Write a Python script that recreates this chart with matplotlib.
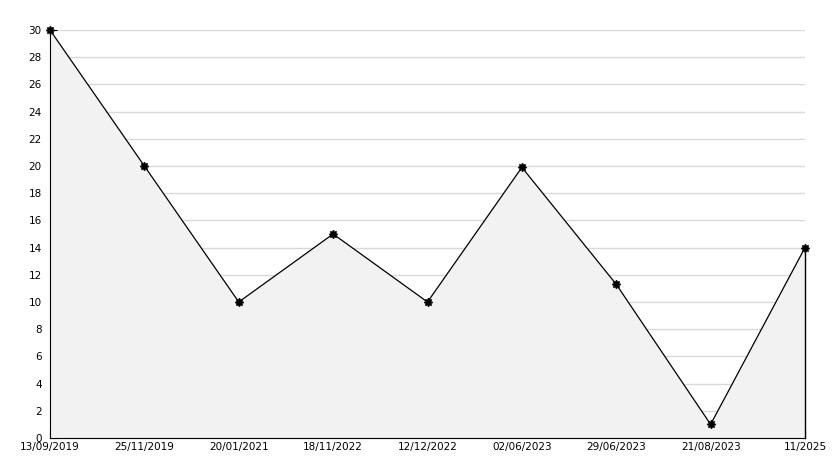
import matplotlib
matplotlib.use("Agg")
import matplotlib.pyplot as plt
import numpy as np

# data
dates = ["13/09/2019", "25/11/2019", "20/01/2021", "18/11/2022", "12/12/2022",
         "02/06/2023", "29/06/2023", "21/08/2023", "11/2025"]
values = [30, 20, 10, 15, 10, 19.9, 11.3, 1, 14]

x = np.arange(len(dates))

fig = plt.figure(figsize=(8.34, 4.68), dpi=100)
ax = fig.add_axes([50/834, 30/468, 755/834, 408/468])

# grid behind the fill
for yv in range(2, 31, 2):
    ax.axhline(yv, color='#d9d9d9', linewidth=1, zorder=0.5)

ax.fill_between(x, values, 0, facecolor='#f2f2f2', edgecolor='none', zorder=2)
ax.plot([x[-1], x[-1]], [0, values[-1]], color='black', linewidth=1,
        zorder=3, clip_on=False)
ax.plot(x, values, color='black', linewidth=0.9, marker=(8, 1, 0),
        markersize=6, markerfacecolor='black', zorder=4, clip_on=False)

ax.set_xlim(0, len(dates) - 1)
ax.set_ylim(0, 30)
ax.set_xticks(x)
ax.set_xticklabels(dates)
ax.set_yticks(range(0, 31, 2))
ax.set_yticks(range(1, 30, 2), minor=True)

for s in ['top', 'right']:
    ax.spines[s].set_visible(False)
ax.spines['left'].set_zorder(5)
ax.spines['bottom'].set_zorder(5)

ax.tick_params(axis='y', which='major', direction='in', length=5, labelsize=7.5, pad=6)
ax.tick_params(axis='y', which='minor', direction='in', length=3)
ax.tick_params(axis='x', which='major', direction='in', length=6, labelsize=7.5, pad=3)

plt.savefig("out.png", dpi=100)
